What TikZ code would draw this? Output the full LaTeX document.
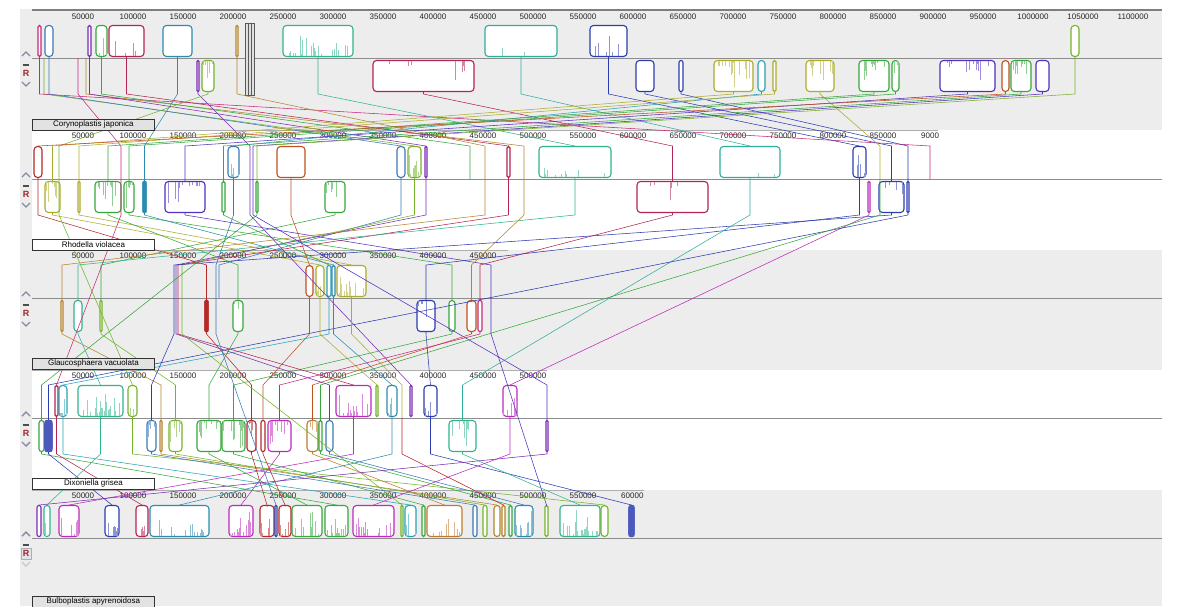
\documentclass[tikz,border=0pt]{standalone}
\usepackage{fontspec}
\setsansfont{Liberation Sans}
\usetikzlibrary{calc}
\definecolor{mvPink}{HTML}{C8287A}
\definecolor{mvSteel}{HTML}{3A78B8}
\definecolor{mvPurple}{HTML}{7A2AB4}
\definecolor{mvGreen}{HTML}{36A83C}
\definecolor{mvCrimson}{HTML}{B42450}
\definecolor{mvCerulean}{HTML}{2C8CB0}
\definecolor{mvOchre}{HTML}{B4842A}
\definecolor{mvJade}{HTML}{30B48E}
\definecolor{mvTeal}{HTML}{2EAE9C}
\definecolor{mvBlue}{HTML}{2C3CB0}
\definecolor{mvLime}{HTML}{74B428}
\definecolor{mvOlive}{HTML}{ACAC2A}
\definecolor{mvCyan}{HTML}{28A2B4}
\definecolor{mvViolet}{HTML}{5030C0}
\definecolor{mvRust}{HTML}{C0501E}
\definecolor{mvRed}{HTML}{B42828}
\definecolor{mvOrange}{HTML}{C07A2C}
\definecolor{mvFuchsia}{HTML}{BE28BE}
\definecolor{mvPanel}{HTML}{EDEDED}
\definecolor{mvAxis}{HTML}{8C8C8C}
\definecolor{mvArrow}{HTML}{8A8AA6}
\definecolor{mvRev}{HTML}{A42424}
\definecolor{mvNameGray}{HTML}{E2E2E2}
\tikzset{
  lcb/.style={
    draw=#1,
    fill=white,
    line width=1.1pt,
    inner sep=0pt,
    minimum height=31pt
  },
  lcbmark/.style={
    inner sep=0pt,
    outer sep=0pt,
    minimum size=0pt
  },
  lcbline/.style={
    draw=#1,
    line width=0.55pt
  },
  rulerlabel/.style={
    font=\sffamily\fontsize{8}{9}\selectfont,
    text=black!85,
    inner sep=0pt
  },
  namebox/.style={
    draw=black!80,
    line width=0.8pt,
    fill=#1,
    anchor=north west,
    minimum width=122pt,
    minimum height=11pt,
    inner sep=0pt,
    font=\sffamily\fontsize{8}{9}\selectfont
  },
  revlabel/.style={
    font=\sffamily\bfseries\fontsize{9}{10}\selectfont,
    text=mvRev,
    inner sep=0pt
  }
}
% block above / below the centre line: name, left, right, centre line, colour
\newcommand{\blkup}[5]{%
  \pgfmathsetmacro{\bwid}{max(#3-#2,2)}%
  \pgfmathsetmacro{\brad}{min(3.5,\bwid/2)}%
  \node[lcb=#5, minimum width=\bwid pt, rounded corners=\brad pt] (#1) at ({(#2+#3)/2},#4-17) {};}
\newcommand{\blkdn}[5]{%
  \pgfmathsetmacro{\bwid}{max(#3-#2,2)}%
  \pgfmathsetmacro{\brad}{min(3.5,\bwid/2)}%
  \node[lcb=#5, minimum width=\bwid pt, rounded corners=\brad pt] (#1) at ({(#2+#3)/2},#4+18) {};}
\newcommand{\tinylcb}[3]{\node[lcbmark] (#1) at (#2,#3) {};}
% similarity profile spikes
\newcommand{\profup}[3]{%
  \foreach \k in {1,...,#3}{%
    \pgfmathsetmacro{\spx}{0.08+0.84*rnd}%
    \pgfmathsetmacro{\sph}{2+25*rnd*rnd}%
    \draw[#2!55, line width=0.6pt] ($(#1.south west)!\spx!(#1.south east)$) ++(0,-1.2) -- ++(0,-\sph);}}
\newcommand{\profdn}[3]{%
  \foreach \k in {1,...,#3}{%
    \pgfmathsetmacro{\spx}{0.08+0.84*rnd}%
    \pgfmathsetmacro{\sph}{2+25*rnd*rnd}%
    \draw[#2!55, line width=0.6pt] ($(#1.north west)!\spx!(#1.north east)$) ++(0,1.2) -- ++(0,\sph);}}
% connector: upper block, lower block, colour, upper level, lower level
\newcommand{\lcblink}[5]{%
  \draw[lcbline=#3] (#1.south) -- (#1.south |- #4) -- (#2.north |- #5) -- (#2.north);}
% side controls: name, centre line
\newcommand{\mvctrl}[2]{%
  \draw[mvArrow, line width=1.4pt] (22,#2-2) -- (26,#2-6) -- (30,#2-2);
  \draw[black!70, line width=1.1pt] (23,#2+7) -- (29,#2+7);
  \node[revlabel] (#1) at (26,#2+15) {R};
  \draw[mvArrow, line width=1.4pt] (22,#2+24) -- (26,#2+28) -- (30,#2+24);}

\begin{document}
\begin{tikzpicture}[x=1pt,y=-1pt]
\useasboundingbox (0,0) rectangle (1180,606);
\pgfmathsetseed{42}

% panels
\fill[mvPanel] (20,9) rectangle (1162,130);
\fill[mvPanel] (20,130) rectangle (32,250);
\fill[mvPanel] (20,250) rectangle (1162,370);
\fill[mvPanel] (20,370) rectangle (32,490);
\fill[mvPanel] (20,490) rectangle (1162,606);

\draw[mvAxis!90!black, line width=1.6pt] (32,10) -- (1162,10);
\draw[mvAxis!70, line width=0.8pt] (32,130) -- (938,130);
\draw[mvAxis!70, line width=0.8pt] (32,250) -- (508,250);
\draw[mvAxis!70, line width=0.8pt] (32,370) -- (547,370);
\draw[mvAxis!70, line width=0.8pt] (32,490) -- (644,490);

\foreach \y in {58,179,298,418,538}
  \draw[mvAxis, line width=0.8pt] (32,\y) -- (1162,\y);

% rulers
\foreach \k in {1,...,22}
  \node[rulerlabel] (cjTick\k) at (33+50*\k,17) {\number\numexpr50000*\k\relax};
\foreach \k in {1,...,17}
  \node[rulerlabel] (rvTick\k) at (33+50*\k,136) {\number\numexpr50000*\k\relax};
\node[rulerlabel, anchor=west] (rvTickEnd) at (921,136) {9000};
\foreach \k in {1,...,9}
  \node[rulerlabel] (gvTick\k) at (33+50*\k,256) {\number\numexpr50000*\k\relax};
\foreach \k in {1,...,10}
  \node[rulerlabel] (dgTick\k) at (33+50*\k,376) {\number\numexpr50000*\k\relax};
\foreach \k in {1,...,11}
  \node[rulerlabel] (baTick\k) at (33+50*\k,496) {\number\numexpr50000*\k\relax};
\node[rulerlabel, anchor=west] (baTickEnd) at (621,496) {60000};

% track levels
\coordinate (cjBot) at (0,94);
\coordinate (rvTop) at (0,146);
\coordinate (rvBot) at (0,215);
\coordinate (gvTop) at (0,265);
\coordinate (gvBot) at (0,334);
\coordinate (dgTop) at (0,385);
\coordinate (dgBot) at (0,454);
\coordinate (baTop) at (0,505);

% Corynoplastis japonica
\blkup{cjA}{38}{41}{58}{mvPink}
\blkup{cjB}{45}{53}{58}{mvSteel}
\blkup{cjC}{88}{91}{58}{mvPurple}
\blkup{cjD}{96}{107}{58}{mvGreen}
\blkup{cjE}{109}{144}{58}{mvCrimson}
\blkup{cjF}{163}{192}{58}{mvCerulean}
\blkup{cjG}{236}{238}{58}{mvOchre}
\blkup{cjH}{283}{353}{58}{mvJade}
\blkup{cjI}{485}{557}{58}{mvTeal}
\blkup{cjJ}{590}{627}{58}{mvBlue}
\blkup{cjK}{1071}{1079}{58}{mvLime}
\blkdn{cjL}{197}{199}{58}{mvPurple}
\blkdn{cjM}{202}{214}{58}{mvLime}
\blkdn{cjN}{373}{474}{58}{mvCrimson}
\blkdn{cjO}{636}{654}{58}{mvBlue}
\blkdn{cjP}{679}{683}{58}{mvBlue}
\blkdn{cjQ}{714}{753}{58}{mvOlive}
\blkdn{cjR}{758}{765}{58}{mvCyan}
\blkdn{cjS}{773}{776}{58}{mvOlive}
\blkdn{cjT}{806}{834}{58}{mvOlive}
\blkdn{cjU}{859}{889}{58}{mvGreen}
\blkdn{cjV}{892}{899}{58}{mvGreen}
\blkdn{cjW}{940}{995}{58}{mvViolet}
\blkdn{cjX}{1002}{1009}{58}{mvRust}
\blkdn{cjY}{1011}{1031}{58}{mvGreen}
\blkdn{cjZ}{1036}{1049}{58}{mvViolet}
\tinylcb{cjm44}{44}{58}
\tinylcb{cjm78}{78}{58}
\tinylcb{cjm86}{86}{58}
\draw[black!65, fill=black!12, line width=0.9pt] (245,23) rectangle (254,95);
\draw[black!65, line width=0.6pt] (248,23) -- (248,95) (251,23) -- (251,95);
\profup{cjD}{mvGreen}{3}
\profup{cjE}{mvCrimson}{4}
\profup{cjH}{mvJade}{30}
\profup{cjI}{mvTeal}{2}
\profup{cjJ}{mvBlue}{8}
\profdn{cjM}{mvLime}{6}
\profdn{cjN}{mvCrimson}{7}
\profdn{cjQ}{mvOlive}{14}
\profdn{cjT}{mvOlive}{12}
\profdn{cjU}{mvGreen}{12}
\profdn{cjV}{mvGreen}{4}
\profdn{cjW}{mvViolet}{14}
\profdn{cjY}{mvGreen}{10}

% Rhodella violacea
\blkup{rvA}{34}{42}{179}{mvRed}
\blkup{rvB}{228}{239}{179}{mvSteel}
\blkup{rvC}{277}{305}{179}{mvRust}
\blkup{rvD}{397}{405}{179}{mvSteel}
\blkup{rvE}{408}{421}{179}{mvLime}
\blkup{rvF}{425}{427}{179}{mvPurple}
\blkup{rvG}{507}{510}{179}{mvCrimson}
\blkup{rvH}{539}{611}{179}{mvJade}
\blkup{rvI}{720}{780}{179}{mvTeal}
\blkup{rvJ}{853}{866}{179}{mvBlue}
\blkdn{rvK}{45}{60}{179}{mvOlive}
\blkdn{rvL}{78}{80}{179}{mvOlive}
\blkdn{rvM}{95}{121}{179}{mvGreen}
\blkdn{rvN}{124}{134}{179}{mvGreen}
\blkdn{rvO}{143}{146}{179}{mvCerulean}
\blkdn{rvP}{165}{205}{179}{mvViolet}
\blkdn{rvQ}{222}{225}{179}{mvGreen}
\blkdn{rvR}{256}{258}{179}{mvGreen}
\blkdn{rvS}{325}{345}{179}{mvGreen}
\blkdn{rvT}{637}{708}{179}{mvCrimson}
\blkdn{rvU}{868}{870}{179}{mvFuchsia}
\blkdn{rvV}{879}{904}{179}{mvBlue}
\blkdn{rvW}{907}{909}{179}{mvBlue}
\fill[mvCerulean, rounded corners=1pt] (rvO.south west) rectangle (rvO.north east);
\tinylcb{rvm59}{59}{179}
\tinylcb{rvm121}{121}{179}
\tinylcb{rvm250}{250}{179}
\tinylcb{rvm253}{253}{179}
\tinylcb{rvm470}{470}{179}
\tinylcb{rvm485}{485}{179}
\tinylcb{rvm524}{524}{179}
\tinylcb{rvm880}{880}{179}
\tinylcb{rvm930}{930}{179}
\profup{rvB}{mvCyan}{6}
\profup{rvE}{mvLime}{12}
\profup{rvH}{mvJade}{10}
\profup{rvI}{mvTeal}{2}
\profup{rvJ}{mvBlue}{8}
\profdn{rvK}{mvOlive}{6}
\profdn{rvM}{mvGreen}{10}
\profdn{rvN}{mvGreen}{5}
\profdn{rvP}{mvViolet}{10}
\profdn{rvS}{mvGreen}{6}
\profdn{rvT}{mvCrimson}{6}
\profdn{rvV}{mvBlue}{4}

% Glaucosphaera vacuolata
\blkup{gvA}{306}{313}{298}{mvRust}
\blkup{gvB}{316}{324}{298}{mvOlive}
\blkup{gvC}{327}{331}{298}{mvCyan}
\blkup{gvD}{332}{335}{298}{mvCerulean}
\blkup{gvE}{337}{366}{298}{mvOlive}
\blkdn{gvF}{61}{63}{298}{mvOchre}
\blkdn{gvG}{74}{82}{298}{mvJade}
\blkdn{gvH}{100}{102}{298}{mvLime}
\blkdn{gvI}{205}{208}{298}{mvRed}
\blkdn{gvJ}{233}{243}{298}{mvGreen}
\blkdn{gvK}{417}{435}{298}{mvBlue}
\blkdn{gvL}{449}{455}{298}{mvGreen}
\blkdn{gvM}{467}{476}{298}{mvRust}
\blkdn{gvN}{478}{482}{298}{mvPink}
\fill[mvRed, rounded corners=1pt] (gvI.south west) rectangle (gvI.north east);
\tinylcb{gvm174}{174}{298}
\tinylcb{gvm176}{176}{298}
\tinylcb{gvm178}{178}{298}
\tinylcb{gvm182}{182}{298}
\tinylcb{gvm216}{216}{298}
\tinylcb{gvm219}{219}{298}
\tinylcb{gvm491}{491}{298}
\profup{gvB}{mvOlive}{3}
\profup{gvE}{mvOlive}{14}
\profdn{gvJ}{mvGreen}{2}
\profdn{gvK}{mvBlue}{4}

% Dixoniella grisea
\blkup{dgA}{55}{58}{418}{mvCrimson}
\blkup{dgB}{59}{67}{418}{mvCyan}
\blkup{dgC}{78}{123}{418}{mvJade}
\blkup{dgD}{128}{137}{418}{mvLime}
\blkup{dgE}{336}{371}{418}{mvFuchsia}
\blkup{dgF}{376}{378}{418}{mvLime}
\blkup{dgG}{387}{397}{418}{mvCerulean}
\blkup{dgH}{410}{412}{418}{mvPurple}
\blkup{dgI}{424}{437}{418}{mvBlue}
\blkup{dgJ}{503}{517}{418}{mvFuchsia}
\blkdn{dgK}{39}{44}{418}{mvGreen}
\blkdn{dgL}{45}{52}{418}{mvBlue}
\blkdn{dgM}{147}{156}{418}{mvSteel}
\blkdn{dgN}{160}{162}{418}{mvOchre}
\blkdn{dgO}{169}{182}{418}{mvLime}
\blkdn{dgP}{197}{221}{418}{mvGreen}
\blkdn{dgQ}{222}{245}{418}{mvGreen}
\blkdn{dgR}{247}{256}{418}{mvRed}
\blkdn{dgS}{261}{265}{418}{mvRed}
\blkdn{dgT}{268}{291}{418}{mvFuchsia}
\blkdn{dgU}{307}{318}{418}{mvOrange}
\blkdn{dgV}{319}{322}{418}{mvGreen}
\blkdn{dgW}{326}{333}{418}{mvSteel}
\blkdn{dgX}{449}{476}{418}{mvJade}
\blkdn{dgY}{546}{548}{418}{mvPurple}
\fill[mvBlue!85, rounded corners=2pt] (dgL.south west) rectangle (dgL.north east);
\tinylcb{dgm402}{402}{418}
\profup{dgB}{mvCyan}{6}
\profup{dgC}{mvJade}{24}
\profup{dgD}{mvLime}{3}
\profup{dgE}{mvFuchsia}{14}
\profup{dgG}{mvCerulean}{5}
\profup{dgI}{mvBlue}{6}
\profup{dgJ}{mvFuchsia}{8}
\profdn{dgM}{mvSteel}{4}
\profdn{dgO}{mvLime}{5}
\profdn{dgP}{mvGreen}{10}
\profdn{dgQ}{mvGreen}{10}
\profdn{dgR}{mvRed}{5}
\profdn{dgT}{mvFuchsia}{12}
\profdn{dgU}{mvOrange}{4}
\profdn{dgX}{mvJade}{8}

% Bulboplastis apyrenoidosa
\blkup{baA}{37}{41}{538}{mvPurple}
\blkup{baB}{44}{50}{538}{mvJade}
\blkup{baC}{59}{79}{538}{mvFuchsia}
\blkup{baD}{105}{119}{538}{mvBlue}
\blkup{baE}{136}{148}{538}{mvCrimson}
\blkup{baF}{150}{209}{538}{mvCerulean}
\blkup{baG}{229}{253}{538}{mvFuchsia}
\blkup{baH}{260}{274}{538}{mvRed}
\blkup{baI}{275}{277}{538}{mvBlue}
\blkup{baJ}{279}{291}{538}{mvRed}
\blkup{baK}{292}{322}{538}{mvGreen}
\blkup{baL}{325}{348}{538}{mvGreen}
\blkup{baM}{353}{394}{538}{mvFuchsia}
\blkup{baN}{401}{403}{538}{mvLime}
\blkup{baO}{405}{416}{538}{mvCyan}
\blkup{baP}{422}{425}{538}{mvGreen}
\blkup{baQ}{427}{462}{538}{mvOrange}
\blkup{baR}{473}{477}{538}{mvSteel}
\blkup{baS}{483}{487}{538}{mvLime}
\blkup{baT}{494}{500}{538}{mvOchre}
\blkup{baU}{502}{505}{538}{mvOchre}
\blkup{baV}{509}{512}{538}{mvGreen}
\blkup{baW}{515}{533}{538}{mvCerulean}
\blkup{baX}{545}{548}{538}{mvLime}
\blkup{baY}{560}{600}{538}{mvJade}
\blkup{baZ}{601}{608}{538}{mvLime}
\blkup{baAA}{629}{634}{538}{mvBlue}
\fill[mvBlue!85, rounded corners=2pt] (baAA.south west) rectangle (baAA.north east);
\profup{baB}{mvJade}{3}
\profup{baC}{mvFuchsia}{10}
\profup{baD}{mvBlue}{6}
\profup{baE}{mvCrimson}{4}
\profup{baF}{mvCerulean}{16}
\profup{baG}{mvFuchsia}{14}
\profup{baH}{mvRed}{5}
\profup{baJ}{mvRed}{5}
\profup{baK}{mvGreen}{12}
\profup{baL}{mvGreen}{12}
\profup{baM}{mvFuchsia}{14}
\profup{baO}{mvCyan}{5}
\profup{baQ}{mvOrange}{8}
\profup{baW}{mvCerulean}{8}
\profup{baY}{mvJade}{20}

% Corynoplastis -> Rhodella
\lcblink{cjm44}{rvE}{mvLime}{cjBot}{rvTop}
\lcblink{cjA}{rvm930}{mvPink}{cjBot}{rvTop}
\lcblink{cjB}{rvD}{mvSteel}{cjBot}{rvTop}
\lcblink{cjm78}{rvm121}{mvPink}{cjBot}{rvTop}
\lcblink{cjm86}{rvm524}{mvOchre}{cjBot}{rvTop}
\lcblink{cjC}{rvF}{mvPurple}{cjBot}{rvTop}
\lcblink{cjD}{rvm470}{mvGreen}{cjBot}{rvTop}
\lcblink{cjE}{rvG}{mvCrimson}{cjBot}{rvTop}
\lcblink{cjF}{rvO}{mvCerulean}{cjBot}{rvTop}
\lcblink{cjL}{rvm250}{mvPurple}{cjBot}{rvTop}
\lcblink{cjM}{rvm59}{mvLime}{cjBot}{rvTop}
\lcblink{cjG}{rvm485}{mvOchre}{cjBot}{rvTop}
\lcblink{cjH}{rvH}{mvJade}{cjBot}{rvTop}
\lcblink{cjN}{rvT}{mvCrimson}{cjBot}{rvTop}
\lcblink{cjI}{rvI}{mvTeal}{cjBot}{rvTop}
\lcblink{cjJ}{rvJ}{mvBlue}{cjBot}{rvTop}
\lcblink{cjO}{rvV}{mvBlue}{cjBot}{rvTop}
\lcblink{cjP}{rvW}{mvBlue}{cjBot}{rvTop}
\lcblink{cjQ}{rvK}{mvOlive}{cjBot}{rvTop}
\lcblink{cjR}{rvB}{mvCyan}{cjBot}{rvTop}
\lcblink{cjS}{rvL}{mvOlive}{cjBot}{rvTop}
\lcblink{cjT}{rvm880}{mvOlive}{cjBot}{rvTop}
\lcblink{cjU}{rvM}{mvGreen}{cjBot}{rvTop}
\lcblink{cjV}{rvN}{mvGreen}{cjBot}{rvTop}
\lcblink{cjW}{rvP}{mvViolet}{cjBot}{rvTop}
\lcblink{cjX}{rvA}{mvRust}{cjBot}{rvTop}
\lcblink{cjY}{rvQ}{mvGreen}{cjBot}{rvTop}
\lcblink{cjZ}{rvm253}{mvViolet}{cjBot}{rvTop}
\lcblink{cjK}{rvR}{mvLime}{cjBot}{rvTop}

% Rhodella -> Glaucosphaera
\lcblink{rvA}{gvI}{mvRed}{rvBot}{gvTop}
\lcblink{rvK}{gvB}{mvOlive}{rvBot}{gvTop}
\lcblink{rvL}{gvE}{mvOlive}{rvBot}{gvTop}
\lcblink{rvM}{gvJ}{mvGreen}{rvBot}{gvTop}
\lcblink{rvN}{gvL}{mvGreen}{rvBot}{gvTop}
\lcblink{rvO}{gvD}{mvCerulean}{rvBot}{gvTop}
\lcblink{rvP}{gvm491}{mvViolet}{rvBot}{gvTop}
\lcblink{rvB}{gvm216}{mvSteel}{rvBot}{gvTop}
\lcblink{rvC}{gvA}{mvRust}{rvBot}{gvTop}
\lcblink{rvS}{gvH}{mvGreen}{rvBot}{gvTop}
\lcblink{rvD}{gvm219}{mvSteel}{rvBot}{gvTop}
\lcblink{rvE}{gvm182}{mvLime}{rvBot}{gvTop}
\lcblink{rvF}{gvm176}{mvPurple}{rvBot}{gvTop}
\lcblink{rvG}{gvm178}{mvCrimson}{rvBot}{gvTop}
\lcblink{rvm485}{gvF}{mvOchre}{rvBot}{gvTop}
\lcblink{rvH}{gvG}{mvJade}{rvBot}{gvTop}
\lcblink{rvT}{gvN}{mvCrimson}{rvBot}{gvTop}
\lcblink{rvJ}{gvK}{mvBlue}{rvBot}{gvTop}
\lcblink{rvV}{gvm174}{mvBlue}{rvBot}{gvTop}
\lcblink{rvQ}{gvC}{mvGreen}{rvBot}{gvTop}
\lcblink{rvm524}{gvM}{mvOchre}{rvBot}{gvTop}

% Rhodella -> Dixoniella (absent from Glaucosphaera)
\lcblink{rvI}{dgX}{mvTeal}{rvBot}{dgTop}
\lcblink{rvU}{dgJ}{mvFuchsia}{rvBot}{dgTop}
\lcblink{rvW}{dgL}{mvBlue}{rvBot}{dgTop}
\lcblink{rvR}{dgK}{mvGreen}{rvBot}{dgTop}
\lcblink{rvm121}{dgA}{mvPink}{rvBot}{dgTop}
\lcblink{rvm250}{dgH}{mvPurple}{rvBot}{dgTop}
\lcblink{rvm253}{dgY}{mvViolet}{rvBot}{dgTop}
\lcblink{rvm59}{dgD}{mvLime}{rvBot}{dgTop}
\lcblink{rvm880}{dgV}{mvGreen}{rvBot}{dgTop}

% Glaucosphaera -> Dixoniella
\lcblink{gvF}{dgN}{mvOchre}{gvBot}{dgTop}
\lcblink{gvG}{dgC}{mvJade}{gvBot}{dgTop}
\lcblink{gvH}{dgO}{mvLime}{gvBot}{dgTop}
\lcblink{gvI}{dgR}{mvRed}{gvBot}{dgTop}
\lcblink{gvJ}{dgP}{mvGreen}{gvBot}{dgTop}
\lcblink{gvA}{dgS}{mvRust}{gvBot}{dgTop}
\lcblink{gvB}{dgF}{mvOlive}{gvBot}{dgTop}
\lcblink{gvC}{dgB}{mvCyan}{gvBot}{dgTop}
\lcblink{gvD}{dgG}{mvCerulean}{gvBot}{dgTop}
\lcblink{gvE}{dgm402}{mvOlive}{gvBot}{dgTop}
\lcblink{gvK}{dgI}{mvBlue}{gvBot}{dgTop}
\lcblink{gvL}{dgQ}{mvGreen}{gvBot}{dgTop}
\lcblink{gvM}{dgU}{mvRust}{gvBot}{dgTop}
\lcblink{gvN}{dgT}{mvPink}{gvBot}{dgTop}
\lcblink{gvm174}{dgM}{mvBlue}{gvBot}{dgTop}
\lcblink{gvm176}{dgW}{mvPurple}{gvBot}{dgTop}
\lcblink{gvm178}{dgE}{mvCrimson}{gvBot}{dgTop}

% Glaucosphaera -> Bulboplastis (absent from Dixoniella)
\lcblink{gvm491}{baX}{mvViolet}{gvBot}{baTop}
\lcblink{gvm216}{baI}{mvSteel}{gvBot}{baTop}
\lcblink{gvm182}{baN}{mvLime}{gvBot}{baTop}

% Dixoniella -> Bulboplastis
\lcblink{dgK}{baL}{mvGreen}{dgBot}{baTop}
\lcblink{dgL}{baD}{mvBlue}{dgBot}{baTop}
\lcblink{dgA}{baE}{mvCrimson}{dgBot}{baTop}
\lcblink{dgB}{baO}{mvCyan}{dgBot}{baTop}
\lcblink{dgC}{baB}{mvJade}{dgBot}{baTop}
\lcblink{dgD}{baZ}{mvLime}{dgBot}{baTop}
\lcblink{dgM}{baR}{mvSteel}{dgBot}{baTop}
\lcblink{dgN}{baT}{mvOchre}{dgBot}{baTop}
\lcblink{dgO}{baS}{mvLime}{dgBot}{baTop}
\lcblink{dgP}{baK}{mvGreen}{dgBot}{baTop}
\lcblink{dgQ}{baP}{mvGreen}{dgBot}{baTop}
\lcblink{dgR}{baH}{mvRed}{dgBot}{baTop}
\lcblink{dgS}{baJ}{mvRed}{dgBot}{baTop}
\lcblink{dgT}{baG}{mvFuchsia}{dgBot}{baTop}
\lcblink{dgE}{baC}{mvFuchsia}{dgBot}{baTop}
\lcblink{dgU}{baQ}{mvOrange}{dgBot}{baTop}
\lcblink{dgV}{baV}{mvGreen}{dgBot}{baTop}
\lcblink{dgW}{baW}{mvSteel}{dgBot}{baTop}
\lcblink{dgG}{baF}{mvCerulean}{dgBot}{baTop}
\lcblink{dgI}{baAA}{mvBlue}{dgBot}{baTop}
\lcblink{dgX}{baY}{mvJade}{dgBot}{baTop}
\lcblink{dgJ}{baM}{mvFuchsia}{dgBot}{baTop}
\lcblink{dgY}{baA}{mvPurple}{dgBot}{baTop}
\lcblink{dgm402}{baU}{mvRed}{dgBot}{baTop}

% names and controls
\node[namebox=mvNameGray] (cjName) at (32,119) {Corynoplastis japonica};
\node[namebox=white] (rvName) at (32,239) {Rhodella violacea};
\node[namebox=mvNameGray] (gvName) at (32,358) {Glaucosphaera vacuolata};
\node[namebox=white] (dgName) at (32,478) {Dixoniella grisea};
\node[namebox=mvNameGray] (baName) at (32,596) {Bulboplastis apyrenoidosa};

\mvctrl{cjRev}{58}
\mvctrl{rvRev}{179}
\mvctrl{gvRev}{298}
\mvctrl{dgRev}{418}
\draw[mvArrow, line width=1.4pt] (22,536) -- (26,532) -- (30,536);
\draw[black!70, line width=1.1pt] (23,545) -- (29,545);
\draw[mvArrow!70, fill=mvArrow!25, line width=0.6pt] (21,548) rectangle (31,559);
\node[revlabel] (baRev) at (26,553) {R};
\draw[mvArrow!45, line width=1.4pt] (22,562) -- (26,566) -- (30,562);

\end{tikzpicture}
\end{document}
